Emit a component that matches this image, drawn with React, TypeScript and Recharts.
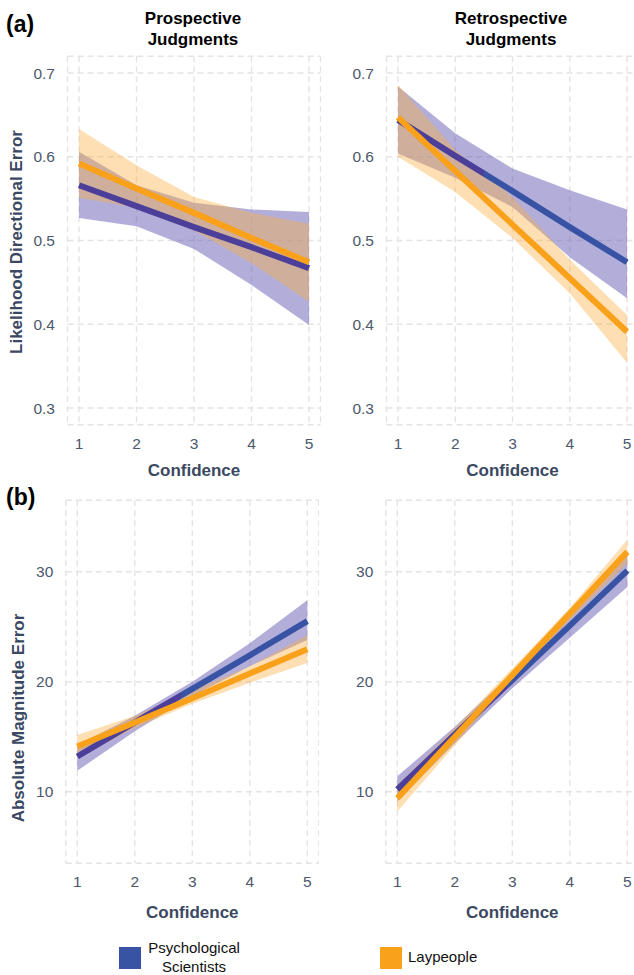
import React from 'react';
import { ComposedChart, Area, Line, XAxis, YAxis, CartesianGrid } from 'recharts';

const confidence = [1, 2, 3, 4, 5];

// (a) likelihood of directional error, prospective judgments
const prospPsych = [0.566, 0.541, 0.516, 0.492, 0.467];
const prospPsychLo = [0.527, 0.517, 0.49, 0.447, 0.399];
const prospPsychHi = [0.606, 0.566, 0.545, 0.537, 0.534];
const prospLay = [0.592, 0.562, 0.533, 0.503, 0.474];
const prospLayLo = [0.551, 0.539, 0.512, 0.473, 0.427];
const prospLayHi = [0.633, 0.59, 0.552, 0.533, 0.52];

// (a) likelihood of directional error, retrospective judgments
const retroPsych = [0.644, 0.601, 0.559, 0.516, 0.474];
const retroPsychLo = [0.604, 0.575, 0.54, 0.48, 0.431];
const retroPsychHi = [0.684, 0.628, 0.586, 0.56, 0.537];
const retroLay = [0.647, 0.583, 0.519, 0.455, 0.391];
const retroLayLo = [0.6, 0.558, 0.503, 0.437, 0.354];
const retroLayHi = [0.686, 0.608, 0.552, 0.477, 0.411];

// (b) absolute magnitude error, prospective judgments
const magProspPsych = [13.2, 16.3, 19.35, 22.4, 25.5];
const magProspPsychLo = [11.9, 15.5, 18.7, 21.4, 23.8];
const magProspPsychHi = [14.25, 16.9, 20.0, 23.5, 27.4];
const magProspLay = [14.1, 16.3, 18.5, 20.75, 22.95];
const magProspLayLo = [13.05, 15.8, 18.0, 19.9, 21.7];
const magProspLayHi = [15.15, 16.9, 19.2, 21.4, 24.25];

// (b) absolute magnitude error, retrospective judgments
const magRetroPsych = [10.2, 15.2, 20.15, 25.1, 30.1];
const magRetroPsychLo = [9.1, 14.4, 19.4, 24.0, 28.6];
const magRetroPsychHi = [11.4, 15.9, 20.8, 26.1, 31.5];
const magRetroLay = [9.4, 15.0, 20.6, 26.2, 31.8];
const magRetroLayLo = [8.2, 14.2, 20.25, 25.6, 30.75];
const magRetroLayHi = [10.6, 15.8, 21.2, 26.7, 32.9];

const likelihoodTicks = [0.3, 0.4, 0.5, 0.6, 0.7];
const magnitudeTicks = [10, 20, 30];

const BLUE = '#3953A4';
const VIOLET = '#4B3F99';
const ORANGE = '#F9A11B';
const FONT = '"Liberation Sans", Arial, Helvetica, sans-serif';
const AXIS_TITLE = '#3B4862';
const TICK = '#4D586C';

// blue line looks violet where it runs under the laypeople ribbon
function psychStops(psych: number[], lo: number[], hi: number[]) {
  const n = psych.length;
  const cuts: number[] = [0, n - 1];
  for (let i = 0; i < n - 1; i++) {
    for (const edge of [lo, hi]) {
      const a = psych[i] - edge[i];
      const b = psych[i + 1] - edge[i + 1];
      if (a * b < 0) cuts.push(i + a / (a - b));
    }
  }
  cuts.sort((m, k) => m - k);
  const stops: { offset: number; color: string }[] = [];
  for (let k = 0; k < cuts.length - 1; k++) {
    const mid = (cuts[k] + cuts[k + 1]) / 2;
    const i = Math.min(Math.floor(mid), n - 2);
    const t = mid - i;
    const at = (arr: number[]) => arr[i] + (arr[i + 1] - arr[i]) * t;
    const inside = at(psych) >= at(lo) && at(psych) <= at(hi);
    const color = inside ? VIOLET : BLUE;
    stops.push({ offset: cuts[k] / (n - 1), color }, { offset: cuts[k + 1] / (n - 1), color });
  }
  return stops;
}

interface PanelProps {
  id: string;
  psych: number[];
  psychLo: number[];
  psychHi: number[];
  lay: number[];
  layLo: number[];
  layHi: number[];
  yDomain: [number, number];
  yTicks: number[];
  yFormat: (v: number) => string;
  left: number;
  top: number;
  plotLeft: number;
  plotTop: number;
  plotRight: number;
  plotBottom: number;
  xTitleOffset: number;
}

function Panel(p: PanelProps) {
  const rows = confidence.map((x, i) => ({
    x,
    psych: p.psych[i],
    psychBand: [p.psychLo[i], p.psychHi[i]],
    lay: p.lay[i],
    layBand: [p.layLo[i], p.layHi[i]],
  }));
  const stops = psychStops(p.psych, p.layLo, p.layHi);
  const xAxisHeight = 60;

  return (
    <div style={{ position: 'absolute', left: p.left, top: p.top }}>
      <ComposedChart
        width={p.plotRight - p.left}
        height={p.plotBottom - p.top + xAxisHeight}
        data={rows}
        margin={{ top: p.plotTop - p.top, right: 0, bottom: 0, left: 0 }}
      >
        <defs>
          <linearGradient id={`psych-${p.id}`} x1="0" y1="0" x2="1" y2="0">
            {stops.map((s, i) => (
              <stop key={i} offset={s.offset} stopColor={s.color} />
            ))}
          </linearGradient>
        </defs>
        <CartesianGrid strokeDasharray="6 4" stroke="#E4E4E4" strokeWidth={1.4} />
        <XAxis
          type="number"
          dataKey="x"
          domain={[0.8, 5.2]}
          ticks={confidence}
          axisLine={false}
          tickLine={false}
          tickSize={0}
          tickMargin={13}
          height={xAxisHeight}
          tick={{ fontSize: 15.5, fill: TICK, fontFamily: FONT }}
          label={{
            value: 'Confidence',
            position: 'insideTop',
            offset: p.xTitleOffset,
            style: { fontSize: 17, fontWeight: 700, fill: AXIS_TITLE, fontFamily: FONT },
          }}
        />
        <YAxis
          type="number"
          domain={p.yDomain}
          ticks={p.yTicks}
          tickFormatter={p.yFormat}
          axisLine={false}
          tickLine={false}
          tickSize={0}
          tickMargin={12.5}
          width={p.plotLeft - p.left}
          tick={{ fontSize: 15.5, fill: TICK, fontFamily: FONT }}
        />
        <Area
          type="linear"
          dataKey="psychBand"
          stroke="none"
          fill="#5E56B0"
          fillOpacity={0.48}
          isAnimationActive={false}
          activeDot={false}
        />
        <Area
          type="linear"
          dataKey="layBand"
          stroke="none"
          fill="#FBB040"
          fillOpacity={0.4}
          isAnimationActive={false}
          activeDot={false}
        />
        <Line
          type="linear"
          dataKey="psych"
          stroke={`url(#psych-${p.id})`}
          strokeWidth={6}
          dot={false}
          activeDot={false}
          isAnimationActive={false}
        />
        <Line
          type="linear"
          dataKey="lay"
          stroke={ORANGE}
          strokeWidth={6}
          dot={false}
          activeDot={false}
          isAnimationActive={false}
        />
      </ComposedChart>
    </div>
  );
}

const abs = (left: number, top: number): React.CSSProperties => ({
  position: 'absolute',
  left,
  top,
  fontFamily: FONT,
  whiteSpace: 'nowrap',
});

function YTitle({ x, y, text }: { x: number; y: number; text: string }) {
  return (
    <div
      style={{
        ...abs(x, y),
        transform: 'translate(-50%, -50%) rotate(-90deg)',
        fontSize: 17,
        fontWeight: 700,
        color: AXIS_TITLE,
      }}
    >
      {text}
    </div>
  );
}

function PanelTitle({ x, lines }: { x: number; lines: string[] }) {
  return (
    <div
      style={{
        ...abs(x, 8),
        transform: 'translateX(-50%)',
        fontSize: 17,
        fontWeight: 700,
        lineHeight: '21px',
        textAlign: 'center',
        color: '#000',
      }}
    >
      {lines.map((l) => (
        <div key={l}>{l}</div>
      ))}
    </div>
  );
}

const fmt1 = (v: number) => v.toFixed(1);
const fmt0 = (v: number) => String(v);

export default function App() {
  return (
    <div
      style={{
        position: 'absolute',
        left: 0,
        top: 0,
        width: 634,
        height: 975,
        overflow: 'hidden',
        background: '#fff',
      }}
    >
      <Panel
        id="tl"
        psych={prospPsych}
        psychLo={prospPsychLo}
        psychHi={prospPsychHi}
        lay={prospLay}
        layLo={prospLayLo}
        layHi={prospLayHi}
        yDomain={[0.28, 0.72]}
        yTicks={likelihoodTicks}
        yFormat={fmt1}
        left={0}
        top={0}
        plotLeft={67.5}
        plotTop={56.25}
        plotRight={320.5}
        plotBottom={424.75}
        xTitleOffset={39}
      />
      <Panel
        id="tr"
        psych={retroPsych}
        psychLo={retroPsychLo}
        psychHi={retroPsychHi}
        lay={retroLay}
        layLo={retroLayLo}
        layHi={retroLayHi}
        yDomain={[0.28, 0.72]}
        yTicks={likelihoodTicks}
        yFormat={fmt1}
        left={320}
        top={0}
        plotLeft={386.5}
        plotTop={56.25}
        plotRight={638.5}
        plotBottom={424.75}
        xTitleOffset={39}
      />
      <Panel
        id="bl"
        psych={magProspPsych}
        psychLo={magProspPsychLo}
        psychHi={magProspPsychHi}
        lay={magProspLay}
        layLo={magProspLayLo}
        layHi={magProspLayHi}
        yDomain={[3.5, 36.5]}
        yTicks={magnitudeTicks}
        yFormat={fmt0}
        left={0}
        top={480}
        plotLeft={65.8}
        plotTop={500.2}
        plotRight={318.8}
        plotBottom={863.2}
        xTitleOffset={43}
      />
      <Panel
        id="br"
        psych={magRetroPsych}
        psychLo={magRetroPsychLo}
        psychHi={magRetroPsychHi}
        lay={magRetroLay}
        layLo={magRetroLayLo}
        layHi={magRetroLayHi}
        yDomain={[3.5, 36.5]}
        yTicks={magnitudeTicks}
        yFormat={fmt0}
        left={320}
        top={480}
        plotLeft={385.8}
        plotTop={500.2}
        plotRight={638.8}
        plotBottom={863.2}
        xTitleOffset={43}
      />

      <PanelTitle x={193} lines={['Prospective', 'Judgments']} />
      <PanelTitle x={511} lines={['Retrospective', 'Judgments']} />

      <YTitle x={16.5} y={241.5} text="Likelihood Directional Error" />
      <YTitle x={18.5} y={718} text="Absolute Magnitude Error" />

      <div style={{ ...abs(6, 11), fontSize: 23, fontWeight: 700, color: '#000' }}>(a)</div>
      <div style={{ ...abs(6, 484), fontSize: 23, fontWeight: 700, color: '#000' }}>(b)</div>

      <div style={{ ...abs(119, 947), width: 22, height: 22, background: BLUE }} />
      <div
        style={{
          ...abs(194, 938),
          transform: 'translateX(-50%)',
          fontSize: 15,
          lineHeight: '19px',
          textAlign: 'center',
          color: '#111',
        }}
      >
        <div>Psychological</div>
        <div>Scientists</div>
      </div>
      <div style={{ ...abs(380, 947), width: 22, height: 22, background: ORANGE }} />
      <div style={{ ...abs(408, 947), fontSize: 15, lineHeight: '19px', color: '#111' }}>Laypeople</div>
    </div>
  );
}
